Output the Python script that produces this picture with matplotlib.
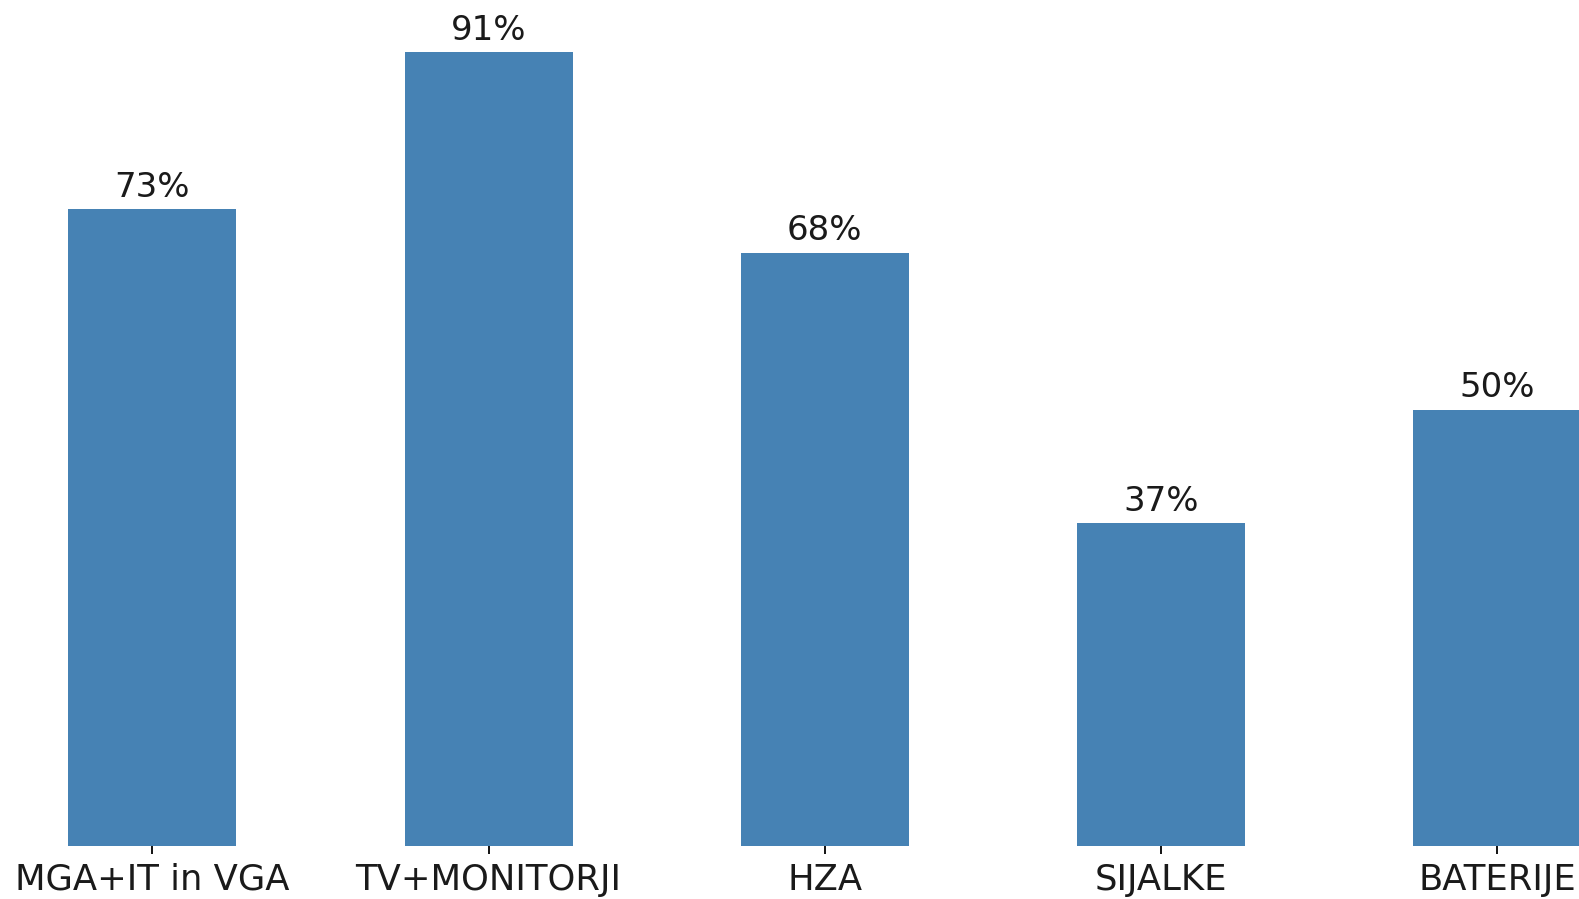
import matplotlib.pyplot as plt

categories = ['MGA+IT in VGA', 'TV+MONITORJI', 'HZA', 'SIJALKE', 'BATERIJE']
values = [73, 91, 68, 37, 50]
labels = ['73%', '91%', '68%', '37%', '50%']

fig = plt.figure(figsize=(15.79, 8.99), dpi=100)
ax = fig.add_axes([0, (899 - 846) / 899, 1, 846 / 899])

x = range(len(categories))
bars = ax.bar(x, values, width=0.5, color='steelblue')
ax.bar_label(bars, labels=labels, padding=4, fontsize=24.5, color='#1a1a1a')

ax.set_xticks(list(x))
ax.set_xticklabels(categories, fontsize=25.5, color='#1a1a1a')
ax.tick_params(axis='x', length=6, width=1.3, pad=6)
ax.set_yticks([])
for s in ax.spines.values():
    s.set_visible(False)

ax.set_xlim(-0.453, 4.243)
ax.set_ylim(0, 846 / 8.722)

fig.savefig('out.png', dpi=100)
